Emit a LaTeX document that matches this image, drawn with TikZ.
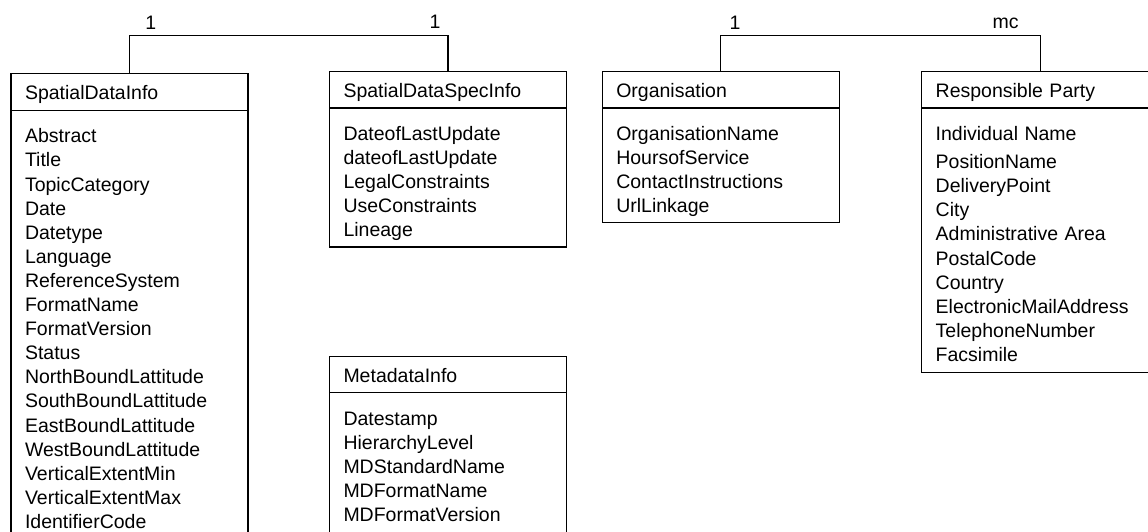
\documentclass[tikz,border=0pt]{standalone}
\usepackage{fontspec}
\setmainfont{Liberation Sans}
\usetikzlibrary{positioning}

\begin{document}
\begin{tikzpicture}[x=1pt, y=-1pt, line width=1.2pt,
  every node/.style={font=\fontsize{19.5}{24.2}\selectfont, inner sep=0pt, outer sep=0pt},
  head/.style={draw, anchor=north west, minimum width=237pt, minimum height=36.5pt, text width=209pt, inner xsep=14pt, align=left, text height=17pt, text depth=1pt},
  body/.style={draw, minimum width=237pt},
  attr/.style={anchor=base west, text width=215pt, align=left},
  mult/.style={anchor=base}]
  \path[use as bounding box, clip] (0,0) rectangle (1148,531);
  % class headers
  \node[head, minimum height=37.2pt] (sdi) at (11,73.3) {SpatialDataInfo};
  \node[head] (sdsi) at (329.5,71.5) {SpatialDataSpecInfo};
  \node[head] (org) at (602.3,71.5) {Organisation};
  \node[head] (rp) at (921.7,71.5) {Responsible Party};
  \node[head, minimum height=35.8pt] (mdi) at (329.5,356.6) {MetadataInfo};
  % class bodies
  \node[body, minimum height=440pt, below=0pt of sdi] (sdi-b) {};
  \node[body, minimum height=139pt, below=0pt of sdsi] (sdsi-b) {};
  \node[body, minimum height=114.7pt, below=0pt of org] (org-b) {};
  \node[body, minimum height=264.7pt, below=0pt of rp] (rp-b) {};
  \node[body, minimum height=160pt, below=0pt of mdi] (mdi-b) {};
  % attributes
  \node[attr, font=\fontsize{19.5}{24.1}\selectfont] (sdi-a) at (25,142.8) {Abstract\\Title\\TopicCategory\\Date\\Datetype\\Language\\ReferenceSystem\\FormatName\\FormatVersion\\Status\\NorthBoundLattitude\\SouthBoundLattitude\\EastBoundLattitude\\WestBoundLattitude\\VerticalExtentMin\\VerticalExtentMax\\IdentifierCode};
  \node[attr] (sdsi-a) at (343.5,140) {DateofLastUpdate\\dateofLastUpdate\\LegalConstraints\\UseConstraints\\Lineage};
  \node[attr] (org-a) at (616.3,140) {OrganisationName\\HoursofService\\ContactInstructions\\UrlLinkage};
  \node[attr] (rp-a) at (935.7,140) {Individual Name\\[4pt]PositionName\\DeliveryPoint\\City\\Administrative Area\\PostalCode\\Country\\ElectronicMailAddress\\TelephoneNumber\\Facsimile};
  \node[attr] (mdi-a) at (343.5,425) {Datestamp\\HierarchyLevel\\MDStandardName\\MDFormatName\\MDFormatVersion};
  % associations
  \draw (sdi.north) -- ++(0,-38) -| (sdsi.north);
  \draw (org.north) -- ++(0,-36.3) -| (rp.north);
  \node[mult] (sdi-m) at (150.7,29) {1};
  \node[mult] (sdsi-m) at (435,28.5) {1};
  \node[mult] (org-m) at (735,29) {1};
  \node[mult] (rp-m) at (1005.7,28.5) {mc};
\end{tikzpicture}
\end{document}
